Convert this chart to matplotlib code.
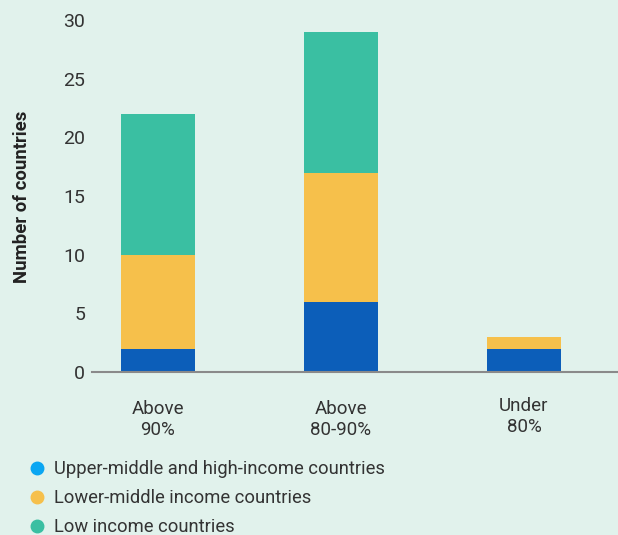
import matplotlib
matplotlib.use("Agg")
import matplotlib.pyplot as plt
import matplotlib.transforms as mtransforms
from matplotlib.lines import Line2D

plt.rcParams['font.family'] = ['Roboto', 'DejaVu Sans']

categories = ['Above\n90%', 'Above\n80-90%', 'Under\n80%']
upper_middle_high = [2, 6, 2]
lower_middle = [8, 11, 1]
low_income = [12, 12, 0]

series_names = ['Upper-middle and high-income countries',
                'Lower-middle income countries',
                'Low income countries']
bar_colors = ['#0c5eb9', '#f6c04b', '#3abfa2']
legend_colors = ['#0aa6f2', '#f6c04b', '#3abfa2']
bg = '#e1f2ec'
txt = '#333333'

fig = plt.figure(figsize=(6.18, 5.35), dpi=100, facecolor=bg)
ax = fig.add_axes([92 / 618, 1 - 372 / 535, 1 - 92 / 618, (372 - 20) / 535])
ax.set_facecolor(bg)

x = range(len(categories))
bottom = [0] * len(categories)
for vals, col in zip([upper_middle_high, lower_middle, low_income], bar_colors):
    ax.bar(x, vals, width=0.404, bottom=bottom, color=col, zorder=2)
    bottom = [b + v for b, v in zip(bottom, vals)]

ax.set_xlim(-0.361, 2.514)
ax.set_ylim(0, 30)
ax.set_yticks([0, 5, 10, 15, 20, 25, 30])
ax.set_xticks(list(x))
ax.set_xticklabels(categories, fontsize=13.5, color=txt, linespacing=1.2)
ax.tick_params(axis='both', length=0, colors=txt)
ax.tick_params(axis='y', labelsize=14, pad=5)
ax.tick_params(axis='x', pad=20)
# the third label sits a little higher in the original
lbl = ax.get_xticklabels()[2]
lbl.set_transform(lbl.get_transform() + mtransforms.ScaledTranslation(0, 3 / 100, fig.dpi_scale_trans))
for s in ['top', 'right', 'left']:
    ax.spines[s].set_visible(False)
ax.spines['bottom'].set_color('#8a8a8a')
ax.spines['bottom'].set_linewidth(1.5)
ax.spines['bottom'].set_zorder(3)

fig.text(22 / 618, 1 - 197 / 535, 'Number of countries', rotation=90,
         ha='center', va='center', fontsize=13.3, fontweight='bold', color='#222222')

handles = [Line2D([], [], marker='o', linestyle='', markersize=9,
                  markerfacecolor=c, markeredgecolor=c) for c in legend_colors]
fig.legend(handles, series_names, loc='upper left',
           bbox_to_anchor=(22 / 618, 1 - 453 / 535), frameon=False,
           fontsize=13.2, labelcolor=txt, handletextpad=0.55,
           labelspacing=0.6, handlelength=0.8, borderaxespad=0)

fig.savefig('out.png', dpi=100, facecolor=bg)
